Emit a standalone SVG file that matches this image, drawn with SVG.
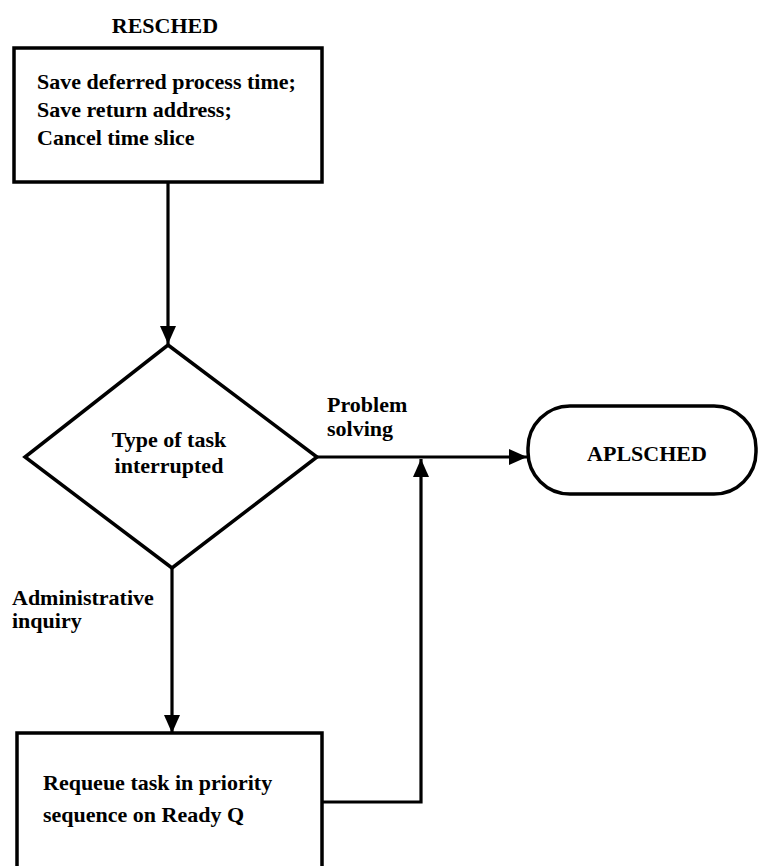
<svg xmlns="http://www.w3.org/2000/svg" width="758" height="866" viewBox="0 0 758 866">
<style>
.box{fill:#fff;stroke:#000;stroke-width:3.5}
.ln{fill:none;stroke:#000;stroke-width:3.2}
.t{font-family:"Liberation Serif","Times New Roman",serif;font-weight:bold;font-size:22px;fill:#000}
.c{text-anchor:middle}
</style>
<defs>
<marker id="ah" viewBox="0 0 18 16" refX="18" refY="8" markerWidth="18" markerHeight="16" markerUnits="userSpaceOnUse" orient="auto">
<path d="M0,0 L18,8 L0,16 Z" fill="#000"/>
</marker>
</defs>
<rect width="758" height="866" fill="#fff"/>
<g id="connectors">
<path class="ln" d="M168,183 L168,344" marker-end="url(#ah)"/>
<path class="ln" d="M317,457 L527,457" marker-end="url(#ah)"/>
<path class="ln" d="M172,568 L172,733" marker-end="url(#ah)"/>
<path class="ln" d="M322,802 L421,802 L421,459" marker-end="url(#ah)"/>
</g>
<g id="resched">
<text class="t c" x="165" y="33">RESCHED</text>
<rect class="box" x="14" y="48" width="308" height="134"/>
<text class="t" x="37" y="89">Save deferred process time;</text>
<text class="t" x="37" y="117">Save return address;</text>
<text class="t" x="37" y="145">Cancel time slice</text>
</g>
<g id="decision">
<polygon class="box" points="168,345 317,457 172,568 25,457"/>
<text class="t c" x="169" y="447">Type of task</text>
<text class="t c" x="169" y="473">interrupted</text>
</g>
<g id="labels">
<text class="t" x="327" y="412">Problem</text>
<text class="t" x="327" y="436">solving</text>
<text class="t" x="12" y="605">Administrative</text>
<text class="t" x="12" y="628">inquiry</text>
</g>
<g id="aplsched">
<rect class="box" x="528" y="406" width="228" height="88" rx="42" ry="42"/>
<text class="t c" x="647" y="461">APLSCHED</text>
</g>
<g id="requeue">
<rect class="box" x="17" y="733" width="305" height="140"/>
<text class="t" x="43" y="790">Requeue task in priority</text>
<text class="t" x="43" y="822">sequence on Ready Q</text>
</g>
</svg>
